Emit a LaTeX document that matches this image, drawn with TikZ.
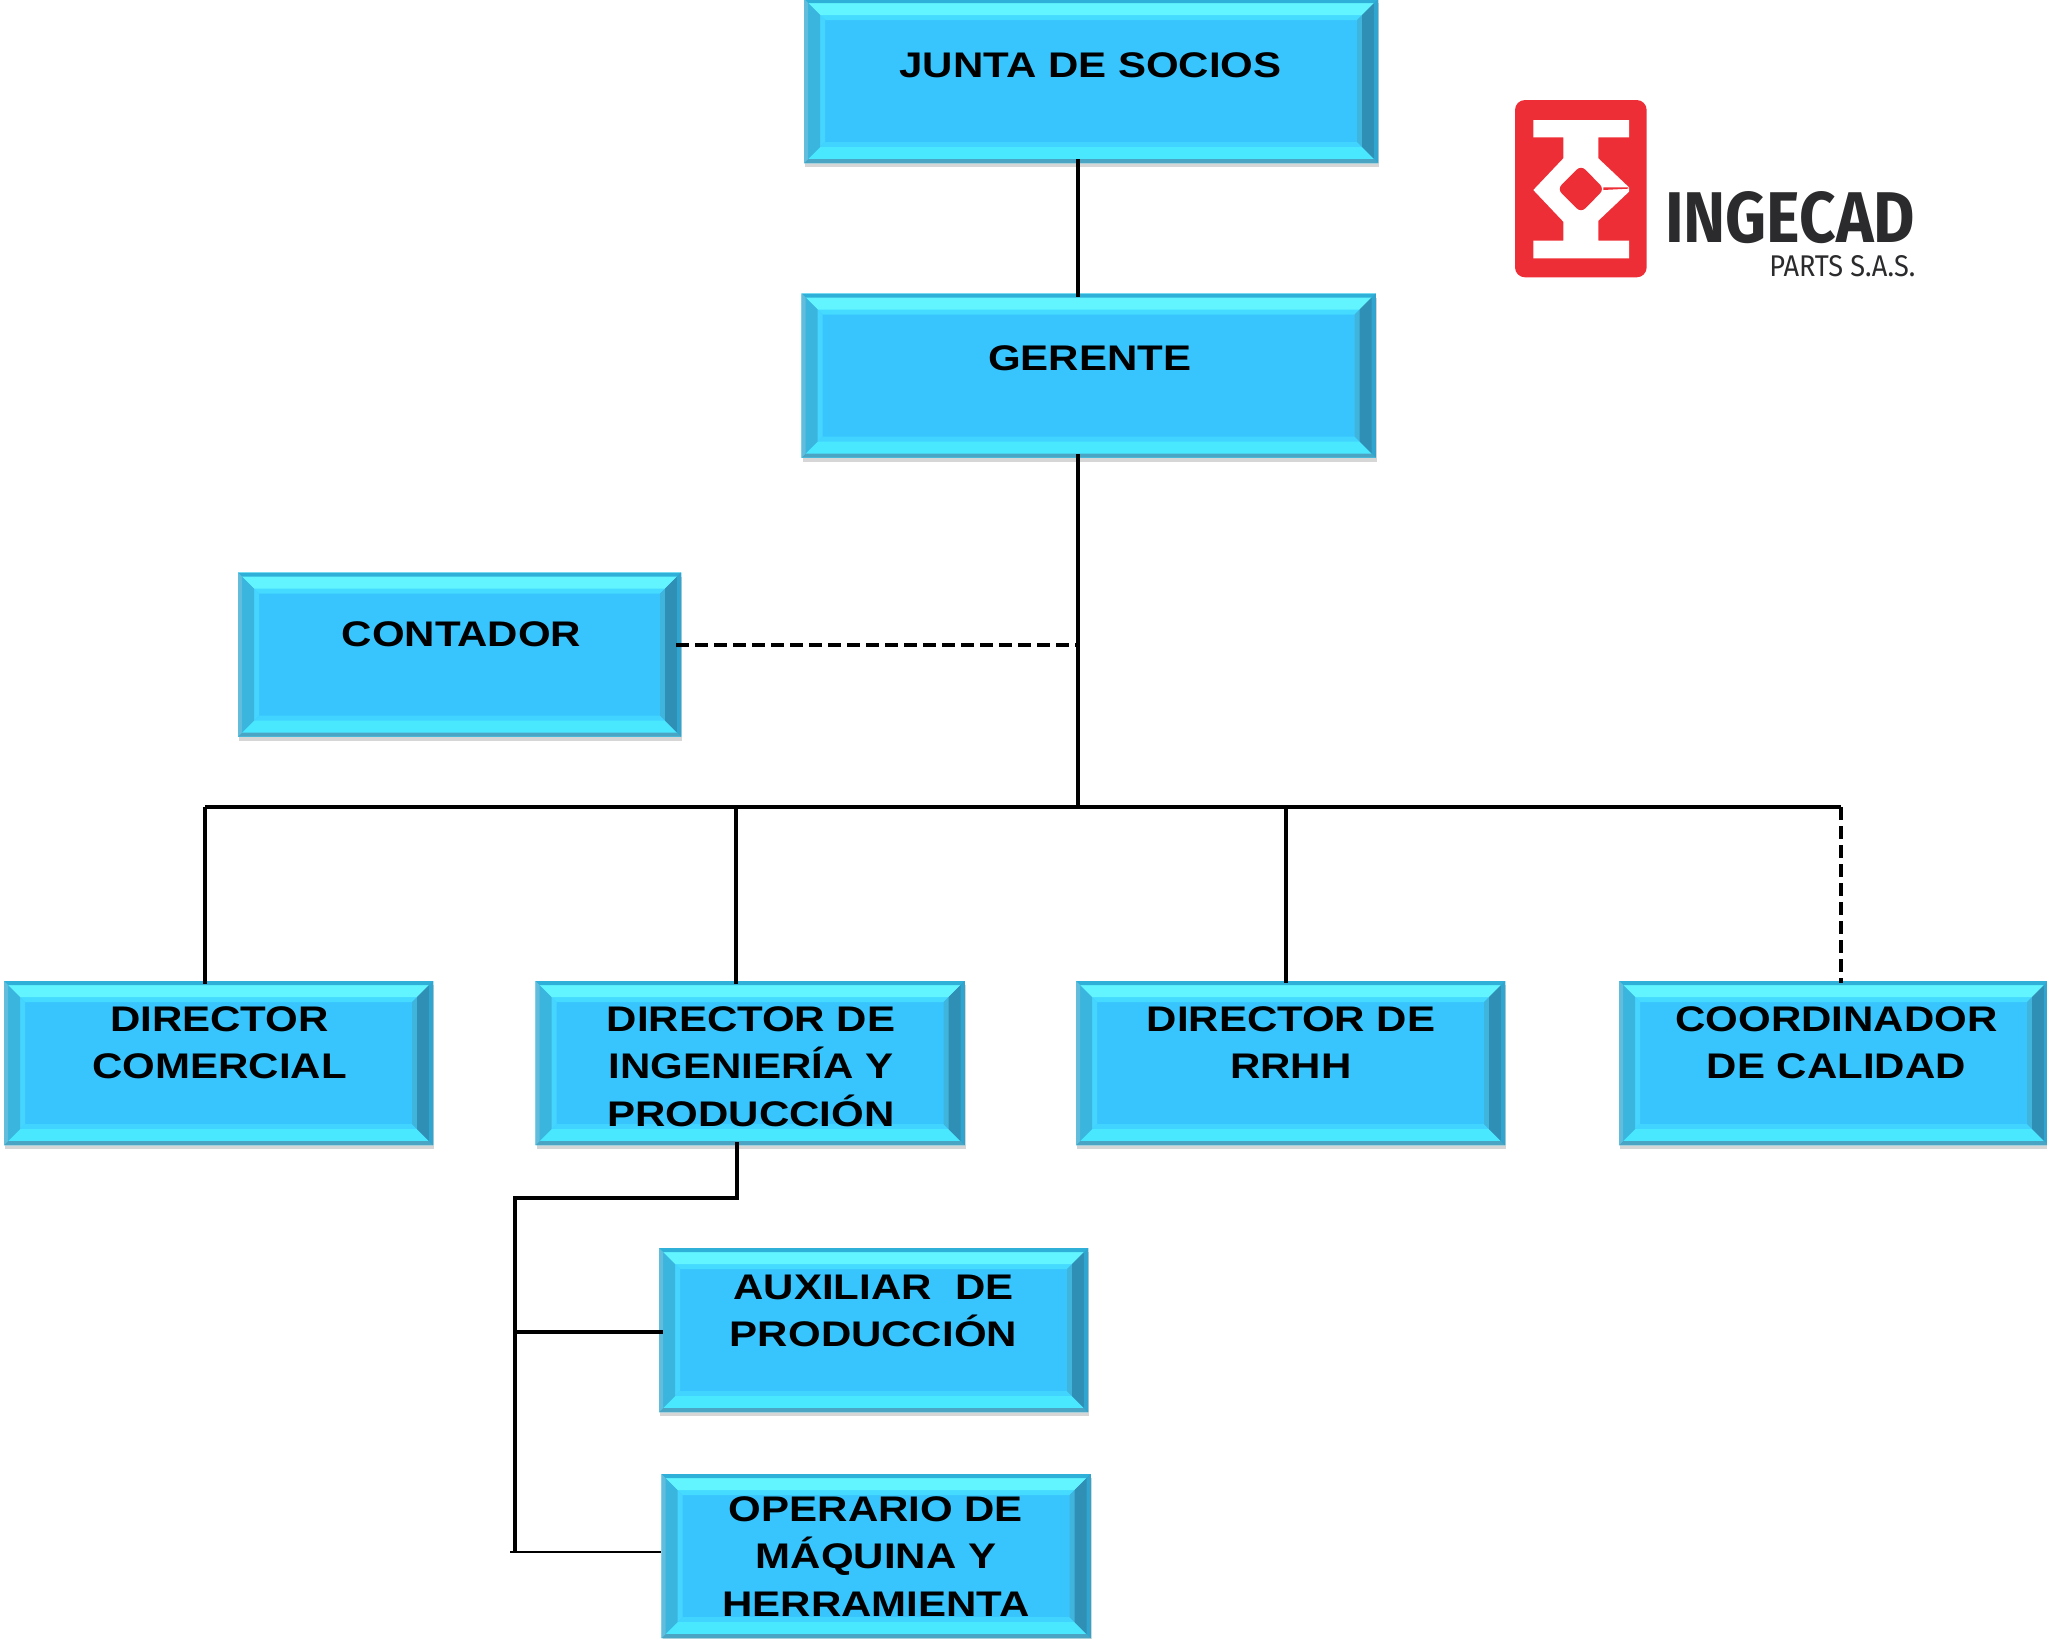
\documentclass[tikz,border=0pt]{standalone}
\usepackage{fontspec}
\setmainfont{Liberation Sans}
\newfontfamily\logofont{Fira Sans}
\newfontfamily\boxfont[FakeStretch=1.18,BoldFont={Liberation Sans Bold}]{Liberation Sans}
\usetikzlibrary{shadows,calc}
\definecolor{face}{HTML}{38C5FE}
\definecolor{bevT}{HTML}{62F5FF}
\definecolor{bevB}{HTML}{4AE8FF}
\definecolor{bevL}{HTML}{39B5DE}
\definecolor{bevR}{HTML}{2F8FB5}
\definecolor{ringT}{HTML}{45DAFF}
\definecolor{ringB}{HTML}{40D4FF}
\definecolor{ringL}{HTML}{45D5FF}
\definecolor{ringR}{HTML}{3FB5DD}
\definecolor{edgeT}{HTML}{2FB0D9}
\definecolor{edgeB}{HTML}{4AA5C4}
\definecolor{edgeL}{HTML}{62BCDB}
\definecolor{edgeR}{HTML}{2FA5CF}
\definecolor{logored}{HTML}{EE2E36}
\definecolor{logotext}{HTML}{2B2B2D}
\newcommand{\boxlabel}[3]{\makebox[0pt]{\hspace*{#1pt}\raisebox{#2pt}[0pt][0pt]{\begin{tabular}[t]{@{}c@{}}#3\end{tabular}}}}
\newcommand{\bevelring}[5]{%
    \fill[#2] (pa) -- (pb) -- ($(pb)+(-#1,-#1)$) -- ($(pa)+(#1,-#1)$) -- cycle;
    \fill[#3] (pd) -- (pc) -- ($(pc)+(-#1,#1)$) -- ($(pd)+(#1,#1)$) -- cycle;
    \fill[#4] (pa) -- (pd) -- ($(pd)+(#1,#1)$) -- ($(pa)+(#1,-#1)$) -- cycle;
    \fill[#5] (pb) -- (pc) -- ($(pc)+(-#1,#1)$) -- ($(pb)+(-#1,-#1)$) -- cycle;}
\tikzset{
 bevelbox/.style={rectangle,inner sep=0pt,fill=face,
   minimum height=82pt,font=\boxfont\fontsize{17.8}{23.8}\selectfont\bfseries,text=black,
   drop shadow={shadow xshift=0.6pt,shadow yshift=-2.2pt,opacity=.16,fill=black},
   path picture={
    \coordinate (pa) at (path picture bounding box.north west);
    \coordinate (pb) at (path picture bounding box.north east);
    \coordinate (pc) at (path picture bounding box.south east);
    \coordinate (pd) at (path picture bounding box.south west);
    \bevelring{10.5pt}{ringT}{ringB}{ringL}{ringR}
    \bevelring{8pt}{bevT}{bevB}{bevL}{bevR}
    \bevelring{2pt}{edgeT}{edgeB}{edgeL}{edgeR}
   }},
 widebox/.style={bevelbox,minimum width=287pt},
 narrowbox/.style={bevelbox,minimum width=214.5pt},
 midbox/.style={bevelbox,minimum width=221.5pt},
 conn/.style={draw=black,line width=1.55pt},
 dashconn/.style={conn,line width=1.6pt,dash pattern=on 6.5pt off 3pt},
}
\begin{document}
\begin{tikzpicture}[x=0.5pt,y=-0.5pt]
\useasboundingbox (0,0) rectangle (2047,1639);
\node[widebox] (junta) at (1091,81) {\boxlabel{-0.5}{2}{JUNTA DE SOCIOS}};
\node[widebox] (gerente) at (1088.5,375.5) {\boxlabel{1.2}{2.3}{GERENTE}};
\node[midbox] (contador) at (459.5,654.5) {\boxlabel{2}{4}{CONTADOR}};
\node[narrowbox] (comercial) at (218.5,1063) {\boxlabel{1}{16}{DIRECTOR\\COMERCIAL}};
\node[narrowbox] (ingenieria) at (750,1063) {\boxlabel{1}{16}{DIRECTOR DE\\INGENIERÍA Y\\PRODUCCIÓN}};
\node[narrowbox] (rrhh) at (1290.5,1063) {\boxlabel{0.5}{16}{DIRECTOR DE\\RRHH}};
\node[narrowbox] (calidad) at (1833.5,1063) {\boxlabel{3}{16}{COORDINADOR\\DE CALIDAD}};
\node[narrowbox] (auxiliar) at (873.5,1330) {\boxlabel{0}{15.5}{AUXILIAR\ \ DE\\PRODUCCIÓN}};
\node[narrowbox] (operario) at (876,1556) {\boxlabel{0}{17.5}{OPERARIO DE\\MÁQUINA Y\\HERRAMIENTA}};
% connector guides
\coordinate (trunk) at (1078,807);
\coordinate (busL) at (205,807);
\coordinate (busI) at (736,807);
\coordinate (busR) at (1286,807);
\coordinate (busC) at (1841,807);
\coordinate (riser) at (515,1198);
\coordinate (drop) at (737,1198);
\coordinate (tickA) at (515,1332);
\coordinate (tickO) at (510,1552);
\coordinate (dashEnd) at (1078,645);
\coordinate (dashStart) at (676,645);
\draw[conn] ([yshift=2pt]trunk |- junta.south) -- ([yshift=-2pt]trunk |- gerente.north);
\draw[conn] ([yshift=2pt]trunk |- gerente.south) -- (trunk);
\draw[conn] (busL) -- (busC);
\draw[conn] (busL) -- ([yshift=-1.5pt]busL |- comercial.north);
\draw[conn] (busI) -- ([yshift=-1.5pt]busI |- ingenieria.north);
\draw[conn] (busR) -- ([yshift=-1pt]busR |- rrhh.north);
\draw[dashconn] (busC) -- ([yshift=-1pt]busC |- calidad.north);
\draw[dashconn] (dashStart) -- (dashEnd);
\draw[conn] ([yshift=1.5pt]drop |- ingenieria.south) -- (drop) -- (riser) -- (riser |- tickO);
\draw[conn] (tickA) -- ([xshift=2pt]tickA -| auxiliar.west);
\draw[conn,line width=1.4pt] (tickO) -- (tickO -| operario.west);
% logo
\begin{scope}[shift={(1480,80)},x=0.16667pt,y=-0.16667pt]
\fill[logored,rounded corners=5pt] (105,60) rectangle (500,592);
\fill[white] (160,120) -- (447,120) -- (447,172) -- (355,172) -- (355,235) -- (447,322) -- (447,335) -- (355,422) -- (355,482) -- (447,482) -- (447,535) -- (160,535) -- (160,482) -- (250,482) -- (250,425) -- (160,330) -- (250,235) -- (250,172) -- (160,172) -- cycle;
\fill[logored,rounded corners=3pt] (303,256) -- (373,327) -- (303,398) -- (232,327) -- cycle;
\fill[logored] (370,322) -- (445,322) -- (445,326) -- (370,330) -- cycle;
\node[inner sep=0pt,text=logotext,font=\logofont\bfseries] (brand) at (930,412) {\resizebox{125pt}{25.5pt}{INGECAD}};
\node[inner sep=0pt,text=logotext,font=\logofont] (parts) at (1087,558) {\resizebox{73pt}{10.5pt}{PARTS S.A.S.}};
\end{scope}
\end{tikzpicture}
\end{document}
